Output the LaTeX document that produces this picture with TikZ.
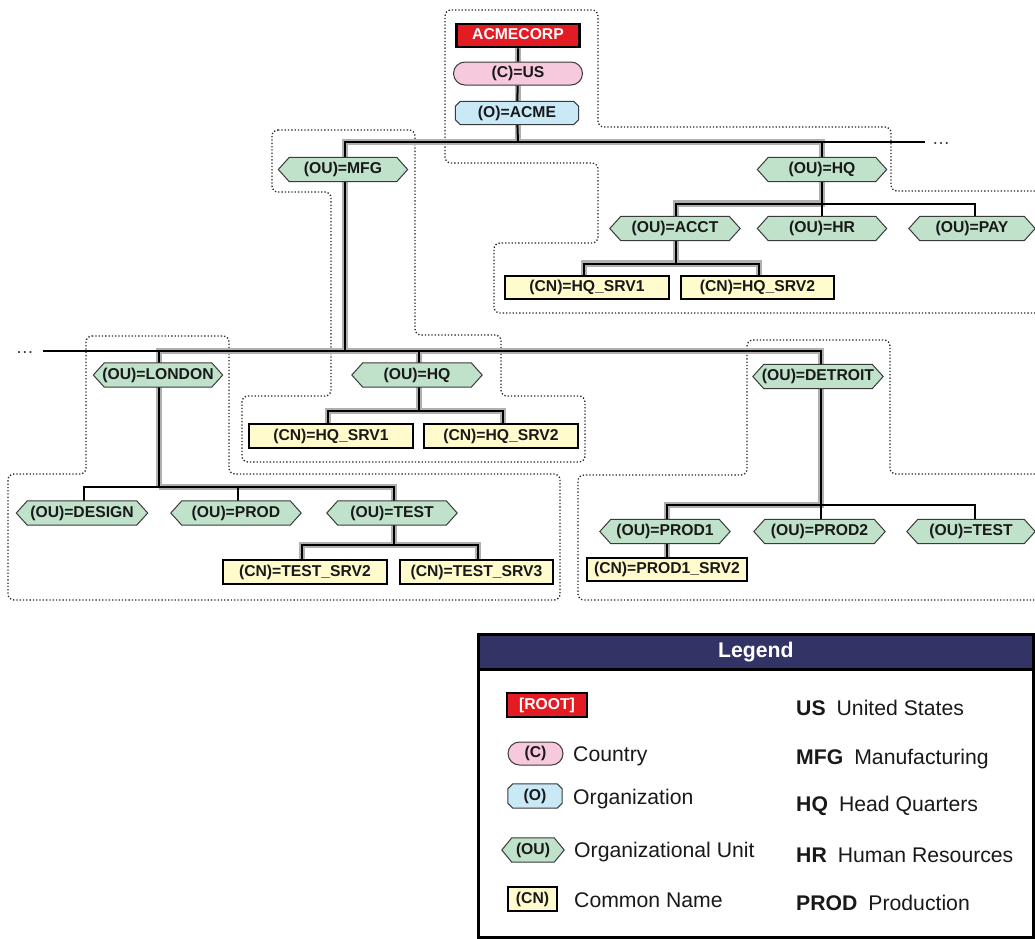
\documentclass[tikz,border=0pt]{standalone}
\usepackage{fontspec}
\setmainfont{Liberation Sans}
\usetikzlibrary{calc}
\pgfdeclarelayer{bg}
\pgfdeclarelayer{lines}
\pgfdeclarelayer{shapes}
\pgfsetlayers{bg,lines,shapes,main}
\definecolor{oufill}{HTML}{C0E1CA}
\definecolor{cfill}{HTML}{F7C9DD}
\definecolor{ofill}{HTML}{C9E9F7}
\definecolor{cnfill}{HTML}{FFFBCC}
\definecolor{rootred}{HTML}{E31B23}
\definecolor{navy}{HTML}{333366}
\definecolor{hilite}{HTML}{B0B0B0}
\definecolor{shapeline}{HTML}{3A3A3A}
\newcommand\nodefont{\fontsize{15.7}{18}\selectfont\bfseries}
\newcommand\legfont{\fontsize{21.2}{24}\selectfont}
\newcommand\hexbg[2]{%
  \path[hexshape] (#1.west) -- ([xshift=#2]#1.north west) -- ([xshift=-#2]#1.north east) -- (#1.east) -- ([xshift=-#2]#1.south east) -- ([xshift=#2]#1.south west) -- cycle;}
\newcommand\octbg[2]{%
  \path[octshape] ([yshift=-#2]#1.north west) -- ([xshift=#2]#1.north west) -- ([xshift=-#2]#1.north east) -- ([yshift=-#2]#1.north east) -- ([yshift=#2]#1.south east) -- ([xshift=-#2]#1.south east) -- ([xshift=#2]#1.south west) -- ([yshift=#2]#1.south west) -- cycle;}
\tikzset{
  lbl/.style={rectangle, inner sep=0, minimum height=24, text height=11, text depth=3, font=\nodefont, text=black!90},
  ou/.style={lbl, minimum width=#1},
  org/.style={lbl, minimum width=#1, minimum height=23},
  cn/.style={rectangle, inner sep=0, minimum height=23, minimum width=#1, text height=11, text depth=3, draw=black, line width=1.2, fill=cnfill, font=\nodefont, text=black!90},
  cpill/.style={rectangle, rounded corners=11.5, inner sep=0, minimum height=23, minimum width=#1, text height=11, text depth=3, draw=shapeline, line width=1, fill=cfill, font=\nodefont, text=black!90},
  rootbox/.style={rectangle, inner sep=0, minimum height=23, minimum width=#1, text height=11, text depth=3, draw=black, line width=2.5, fill=rootred, text=white, font=\nodefont},
  link/.style={line width=2, black},
  hl/.style={line width=6.5, hilite},
  region/.style={line width=1.3, black!85, dash pattern=on 1.3pt off 2pt, rounded corners=6},
  hexshape/.style={draw=shapeline, line width=1, fill=oufill},
  octshape/.style={draw=shapeline, line width=1, fill=ofill},
  leglbl/.style={anchor=base west, inner sep=0, font=\legfont, text=black!90},
  ell/.style={inner sep=0, font=\fontsize{18}{20}\selectfont, text=black!80},
}
\begin{document}
\begin{tikzpicture}[x=1pt,y=-1pt]
\begin{pgfonlayer}{bg}
\fill[white] (0,0) rectangle (1035,938);
\end{pgfonlayer}
\useasboundingbox (0,0) rectangle (1035,938);

% ---------- nodes ----------
\node[rootbox=123] (root) at (518,35.5) {ACMECORP};
\node[cpill=129] (us) at (518,73.5) {(C)=US};
\node[org=123] (acme) at (517,113) {(O)=ACME};
\node[ou=129] (mfg) at (343,169.5) {(OU)=MFG};
\node[ou=129] (hqa) at (822,169.5) {(OU)=HQ};
\node[ou=130] (acct) at (675,228.5) {(OU)=ACCT};
\node[ou=129] (hr) at (822,228.5) {(OU)=HR};
\node[ou=126] (pay) at (972,228.5) {(OU)=PAY};
\node[cn=164] (sa1) at (587,287.5) {(CN)=HQ\_SRV1};
\node[cn=153] (sa2) at (757.5,287.5) {(CN)=HQ\_SRV2};
\node[ou=129] (london) at (158,375) {(OU)=LONDON};
\node[ou=130] (hqb) at (417,375) {(OU)=HQ};
\node[ou=130] (detroit) at (818,376.5) {(OU)=DETROIT};
\node[cn=164, minimum height=24] (sb1) at (331,436) {(CN)=HQ\_SRV1};
\node[cn=154, minimum height=24] (sb2) at (501,436) {(CN)=HQ\_SRV2};
\node[ou=131] (design) at (82,513) {(OU)=DESIGN};
\node[ou=130] (prod) at (236,513) {(OU)=PROD};
\node[ou=130] (testa) at (392,513) {(OU)=TEST};
\node[cn=164, minimum height=24] (ts2) at (305,572) {(CN)=TEST\_SRV2};
\node[cn=153, minimum height=24] (ts3) at (476.5,572) {(CN)=TEST\_SRV3};
\node[ou=130] (prod1) at (665,531.5) {(OU)=PROD1};
\node[ou=131] (prod2) at (819.5,531.5) {(OU)=PROD2};
\node[ou=128] (testb) at (971,531.5) {(OU)=TEST};
\node[cn=160] (p1s) at (667,569.5) {(CN)=PROD1\_SRV2};
\node[ell] (ellA) at (941,144) {…};
\node[ell] (ellB) at (25,353) {…};

% bus coordinates
\coordinate (busA) at (518,142);
\coordinate (busAend) at (925,142);
\coordinate (busB) at (822,203.5);
\coordinate (busC) at (676,263.5);
\coordinate (busD) at (345,351);
\coordinate (busDstart) at (43,351);
\coordinate (busE) at (159,487);
\coordinate (busF) at (394,545);
\coordinate (busG) at (419,411);
\coordinate (busH) at (821,505);

% x positions of verticals
\coordinate (xroot) at (518,0);
\coordinate (xmfg) at (345,0);
\coordinate (xhqa) at (822,0);
\coordinate (xacct) at (676,0);
\coordinate (xpay) at (975,0);
\coordinate (xsa1) at (584,0);
\coordinate (xsa2) at (759,0);
\coordinate (xlon) at (159,0);
\coordinate (xhqb) at (419,0);
\coordinate (xdet) at (821,0);
\coordinate (xsb1) at (328,0);
\coordinate (xsb2) at (503,0);
\coordinate (xdes) at (84,0);
\coordinate (xprod) at (238,0);
\coordinate (xtesta) at (394,0);
\coordinate (xts2) at (302,0);
\coordinate (xts3) at (478,0);
\coordinate (xp1) at (667,0);
\coordinate (xtestb) at (975,0);

\begin{pgfonlayer}{lines}
% dotted regions
\draw[region] (1035,191) -- (891,191) -- (891,127) -- (598,127) -- (598,10) -- (445,10) -- (445,163) -- (598,163) -- (598,243) -- (494,243) -- (494,313) -- (1035,313);
\draw[region] (272,130) -- (415,130) -- (415,335) -- (501,335) -- (501,396) -- (585,396) -- (585,462) -- (242,462) -- (242,396) -- (331,396) -- (331,192) -- (272,192) -- cycle;
\draw[region] (86,336) -- (229,336) -- (229,474) -- (560,474) -- (560,600) -- (8,600) -- (8,474) -- (86,474) -- cycle;
\draw[region] (1035,474) -- (890,474) -- (890,340) -- (747,340) -- (747,475) -- (578,475) -- (578,600) -- (1035,600);

% highlight band
\draw[hl] (root) -- (xroot|-busA);
\draw[hl] (xmfg|-busD) -- (xmfg|-busA) -- (xhqa|-busA) -- (xhqa|-busB) -- (xacct|-busB) -- (xacct|-busC);
\draw[hl] (xsa1|-sa1) -- (xsa1|-busC) -- (xsa2|-busC) -- (xsa2|-sa2);
\draw[hl] (xlon|-busE) -- (xlon|-busD) -- (xdet|-busD) -- (xdet|-busH) -- (xp1|-busH) -- (xp1|-p1s);
\draw[hl] (xlon|-busE) -- (xtesta|-busE) -- (xtesta|-busF);
\draw[hl] (xts2|-ts2) -- (xts2|-busF) -- (xts3|-busF) -- (xts3|-ts3);
\draw[hl] (xhqb|-busD) -- (xhqb|-busG);
\draw[hl] (xsb1|-sb1) -- (xsb1|-busG) -- (xsb2|-busG) -- (xsb2|-sb2);

% connectors
\draw[link] (root) -- (us) -- (acme) -- (xroot|-busA);
\draw[link] (xmfg|-mfg) -- (xmfg|-busA) -- (xhqa|-busA) -- (xhqa|-hqa);
\draw[link] (xhqa|-busA) -- (busAend);
\draw[link] (xhqa|-hqa) -- (xhqa|-hr);
\draw[link] (xacct|-acct) -- (xacct|-busB) -- (xpay|-busB) -- (xpay|-pay);
\draw[link] (xacct|-acct) -- (xacct|-busC);
\draw[link] (xsa1|-sa1) -- (xsa1|-busC) -- (xsa2|-busC) -- (xsa2|-sa2);
\draw[link] (xmfg|-mfg) -- (xmfg|-busD);
\draw[link] (busDstart) -- (xdet|-busD) -- (xdet|-detroit);
\draw[link] (xlon|-busD) -- (xlon|-london) -- (xlon|-busE);
\draw[link] (xhqb|-busD) -- (xhqb|-hqb) -- (xhqb|-busG);
\draw[link] (xsb1|-sb1) -- (xsb1|-busG) -- (xsb2|-busG) -- (xsb2|-sb2);
\draw[link] (xdes|-design) -- (xdes|-busE) -- (xtesta|-busE) -- (xtesta|-testa);
\draw[link] (xprod|-prod) -- (xprod|-busE);
\draw[link] (xtesta|-testa) -- (xtesta|-busF);
\draw[link] (xts2|-ts2) -- (xts2|-busF) -- (xts3|-busF) -- (xts3|-ts3);
\draw[link] (xdet|-detroit) -- (xdet|-busH);
\draw[link] (xp1|-prod1) -- (xp1|-busH) -- (xtestb|-busH) -- (xtestb|-testb);
\draw[link] (xdet|-prod2) -- (xdet|-busH);
\draw[link] (xp1|-prod1) -- (xp1|-p1s);
\end{pgfonlayer}

% ---------- legend ----------
\node[draw=black, line width=2.5, minimum width=555, minimum height=303, anchor=north west, inner sep=0] (legend) at (477,633) {};
\node[fill=navy, draw=black, line width=2.5, minimum width=555, minimum height=35, anchor=north west, inner sep=0, text=white, font=\legfont\bfseries] (leghead) at (477,633) {Legend\hspace{8pt}};
\node[rootbox=80, minimum height=24] (lroot) at (547,705) {[ROOT]};
\node[cpill=55] (lc) at (535.5,753.5) {(C)};
\node[org=54, minimum height=24] (lo) at (535,796) {(O)};
\node[ou=62] (lou) at (533,850) {(OU)};
\node[cn=49, minimum height=24] (lcn) at (532.5,899) {(CN)};
\node[leglbl] (tc) at (573,761) {Country};
\node[leglbl] (to) at (573,804) {Organization};
\node[leglbl] (tou) at (574,857.5) {Organizational Unit};
\node[leglbl] (tcn) at (574,907.5) {Common Name};
\node[leglbl] (aus) at (796,715.5) {\textbf{US}\hspace{11pt}United States};
\node[leglbl] (amfg) at (796,764.5) {\textbf{MFG}\hspace{11pt}Manufacturing};
\node[leglbl] (ahq) at (796,811.5) {\textbf{HQ}\hspace{11pt}Head Quarters};
\node[leglbl] (ahr) at (796,862.5) {\textbf{HR}\hspace{11pt}Human Resources};
\node[leglbl] (aprod) at (796,910.5) {\textbf{PROD}\hspace{11pt}Production};

% ---------- shape backgrounds ----------
\begin{pgfonlayer}{shapes}
\octbg{acme}{5}
\octbg{lo}{5}
\hexbg{mfg}{11}
\hexbg{hqa}{11}
\hexbg{acct}{11}
\hexbg{hr}{11}
\hexbg{pay}{11}
\hexbg{london}{11}
\hexbg{hqb}{11}
\hexbg{detroit}{11}
\hexbg{design}{11}
\hexbg{prod}{11}
\hexbg{testa}{11}
\hexbg{prod1}{11}
\hexbg{prod2}{11}
\hexbg{testb}{11}
\hexbg{lou}{10}
\end{pgfonlayer}
\end{tikzpicture}
\end{document}
